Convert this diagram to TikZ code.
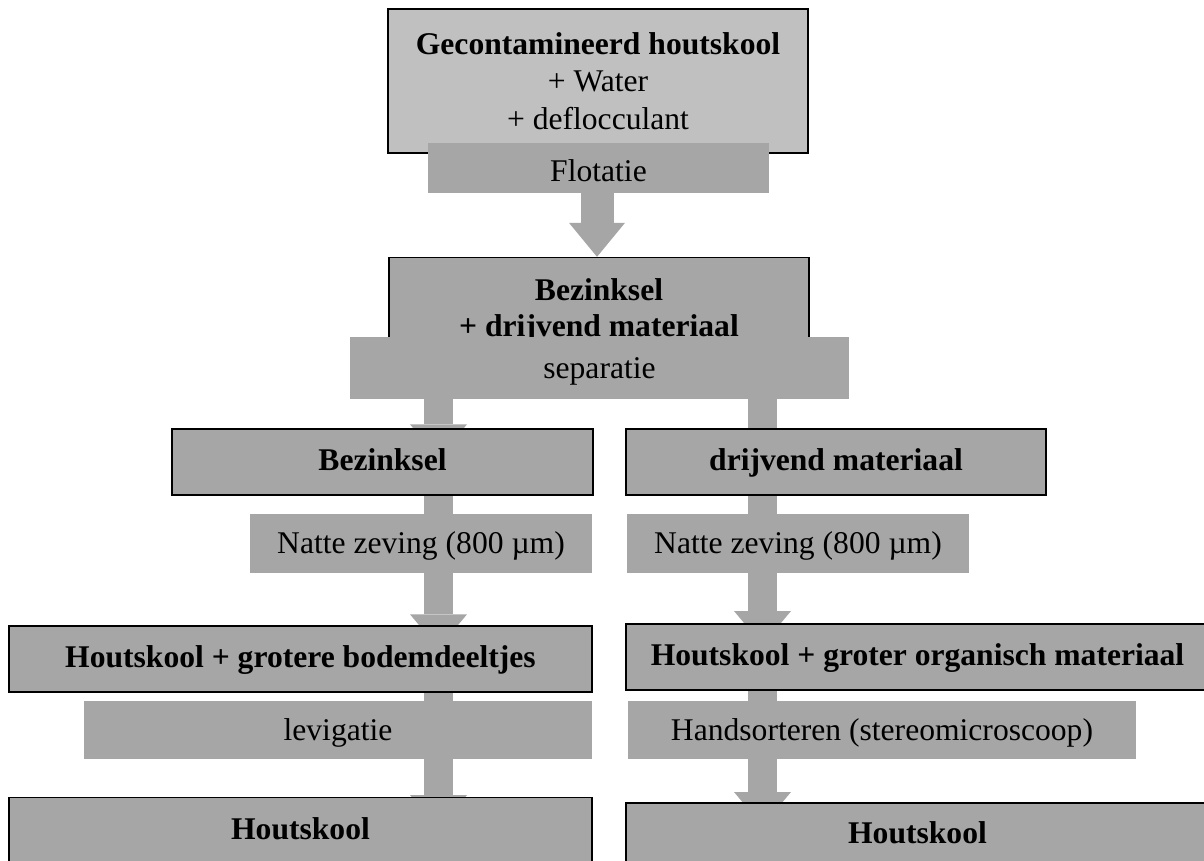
\documentclass[tikz,border=0pt]{standalone}
\usepackage{fontspec}
\setmainfont{Liberation Serif}
\usetikzlibrary{arrows.meta,calc,backgrounds}
\definecolor{boxgray}{RGB}{166,166,166}
\definecolor{topgray}{RGB}{192,192,192}
\definecolor{arrowgray}{RGB}{166,166,166}
\begin{document}
\begin{tikzpicture}[x=0.75pt,y=-0.75pt,
  every node/.style={font=\fontsize{23.7}{28}\selectfont, inner sep=0pt, align=center},
  wh/.style 2 args={minimum width=#1*0.75pt, minimum height=#2*0.75pt},
  topbox/.style={draw=black, line width=1pt, fill=topgray},
  mainbox/.style={draw=black, line width=1pt, fill=boxgray},
  heavybox/.style={draw=black, line width=1.5pt, fill=boxgray},
  oneline/.style={text height=16.5pt, text depth=4.5pt},
  stepbox/.style={fill=boxgray, text height=18pt, text depth=3pt},
  flowarrow/.style={draw=arrowgray, line width=21.75pt,
    -{Triangle[width=42.75pt, length=25.5pt, line width=0pt]}},
  flowarrowM/.style={draw=arrowgray, line width=24.75pt,
    -{Triangle[width=42pt, length=25.5pt, line width=0pt]}},
]
\useasboundingbox (0,0) rectangle (1204,861);
\clip (0,0) rectangle (1204,861);

\coordinate (colM) at (597,0);
\coordinate (colL) at (438.5,0);
\coordinate (colR) at (762.5,0);

% main boxes
\node[topbox, wh={420}{144}] (gec) at (598,81)
  {\textbf{Gecontamineerd houtskool}\\+ Water\\+ deflocculant};
\node[mainbox, wh={420}{107}, font=\fontsize{23.7}{27}\selectfont] (bdm) at (599,311)
  {\textbf{Bezinksel}\\\textbf{+ drijvend materiaal}};
\node[stepbox, wh={341}{50}, text height=20pt, text depth=0pt] (flot) at (598.5,168) {Flotatie};
\node[stepbox, wh={499}{62}] (sep) at (599.5,368) {separatie};

\node[mainbox, oneline, wh={421}{66}] (bez) at (382.5,462) {\textbf{Bezinksel}};
\node[mainbox, oneline, wh={420}{66}] (drij) at (836,462) {\textbf{drijvend materiaal}};

\node[stepbox, wh={342}{59}] (nzL) at (421,543.5) {Natte zeving (800 µm)};
\node[stepbox, wh={342}{59}] (nzR) at (798,543.5) {Natte zeving (800 µm)};

\node[mainbox, oneline, wh={583}{66}] (hg) at (300.5,659) {\textbf{Houtskool + grotere bodemdeeltjes}};
\node[heavybox, oneline, wh={583}{66}] (ho) at (917.5,657) {\textbf{Houtskool + groter organisch materiaal}};

\node[stepbox, wh={508}{58}] (lev) at (338,730) {levigatie};
\node[stepbox, wh={508}{58}] (hand) at (882,730) {Handsorteren (stereomicroscoop)};

\node[mainbox, anchor=north, minimum width=583*0.75pt, inner ysep=15.2pt,
  text height=16pt, text depth=40pt] (hkL) at (300.5,797) {\textbf{Houtskool}};
\node[heavybox, anchor=north, minimum width=583*0.75pt, inner ysep=14.4pt,
  text height=16pt, text depth=40pt] (hkR) at (917.5,802) {\textbf{Houtskool}};

% arrows behind the boxes
\begin{scope}[on background layer]
\fill[white] (0,0) rectangle (1204,861);
\draw[flowarrowM] (flot.south -| colM) -- (bdm.north -| colM);
\draw[flowarrow] (sep.south -| colL) -- ($(bez.north -| colL)+(0,30)$);
\draw[flowarrow] (sep.south -| colR) -- ($(drij.north -| colR)+(0,40)$);
\draw[flowarrow] (bez.south -| colL) -- ($(hg.north -| colL)+(0,23)$);
\draw[flowarrow] (drij.south -| colR) -- ($(ho.north -| colR)+(0,22)$);
\draw[flowarrow] (hg.south -| colL) -- ($(hkL.north -| colL)+(0,32)$);
\draw[flowarrow] (ho.south -| colR) -- ($(hkR.north -| colR)+(0,24)$);
\end{scope}
\end{tikzpicture}
\end{document}
